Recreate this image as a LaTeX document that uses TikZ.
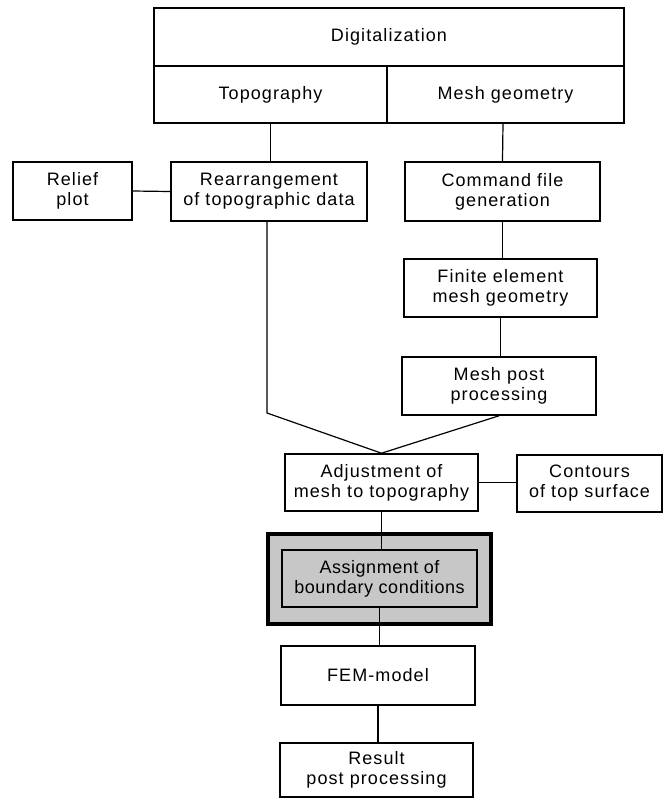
\documentclass[tikz,border=0pt]{standalone}
\usepackage{fontspec}
\setmainfont[LetterSpace=6]{Liberation Sans}
\begin{document}
\begin{tikzpicture}[x=0.5pt,y=-0.5pt,
  box/.style={draw, line width=0.8pt, align=center, inner sep=0pt,
    font=\fontsize{9}{10}\selectfont},
  conn/.style={line width=0.6pt}]
\useasboundingbox (0,0) rectangle (664,800);
% top block
\node[box, minimum width=235pt, minimum height=29pt] (digit) at (389,37) {Digitalization};
\node[box, minimum width=116.5pt, minimum height=28.5pt] (topo) at (270.5,94.5) {Topography};
\node[box, minimum width=118.5pt, minimum height=28.5pt] (meshg) at (505.5,94.5) {Mesh geometry};
% second row
\node[box, minimum width=59.5pt, minimum height=29pt] (relief) at (72.5,191) {Relief\\plot};
\node[box, minimum width=98pt, minimum height=29.5pt] (rearr) at (269,191.5) {Rearrangement\\of topographic data};
\node[box, minimum width=97.5pt, minimum height=29.5pt] (cmd) at (502.5,191.5) {Command file\\generation};
\node[box, minimum width=96.5pt, minimum height=29pt] (fin) at (500.5,288) {Finite element\\mesh geometry};
\node[box, minimum width=97pt, minimum height=29pt] (mpost) at (499,386) {Mesh post\\processing};
\node[box, minimum width=96.5pt, minimum height=28.5pt] (adj) at (381.5,482.5) {Adjustment of\\mesh to topography};
\node[box, minimum width=72.5pt, minimum height=28.5pt] (cont) at (589.5,483.5) {Contours\\of top surface};
% highlighted
\node[draw, line width=1.8pt, fill=black!22, minimum width=111.5pt, minimum height=45pt, inner sep=0pt] (outer) at (379.5,579) {};
\node[box, fill=black!22, minimum width=97.5pt, minimum height=28.5pt, font=\fontsize{9}{10}\selectfont\addfontfeatures{LetterSpace=3}] (assign) at (379.5,578.5) {Assignment of\\boundary conditions};
\node[box, minimum width=97pt, minimum height=29.5pt] (fem) at (378,675.5) {FEM-model};
\node[box, minimum width=96.5pt, minimum height=27pt] (res) at (376.5,770) {Result\\post processing};
% connectors
\coordinate (bend) at (267,413);
\draw[conn] (topo.south) -- (topo.south |- rearr.north);
\draw[conn] (meshg.south -| cmd.north) ++(0.5,0) -- (cmd.north);
\draw[conn] (relief.east) -- (rearr.west);
\draw[conn] (cmd.south) -- (cmd.south |- fin.north);
\draw[conn] (fin.south) -- (fin.south |- mpost.north);
\draw[conn] (rearr.south -| bend) -- (bend) -- (adj.north);
\draw[conn] (mpost.south) -- (adj.north);
\draw[conn] (adj.east) -- (adj.east -| cont.west);
\draw[conn] (adj.south) -- (adj.south |- assign.north);
\draw[conn] (assign.south) -- (assign.south |- fem.north);
\draw[conn] (fem.south) -- (fem.south |- res.north);
\end{tikzpicture}
\end{document}
